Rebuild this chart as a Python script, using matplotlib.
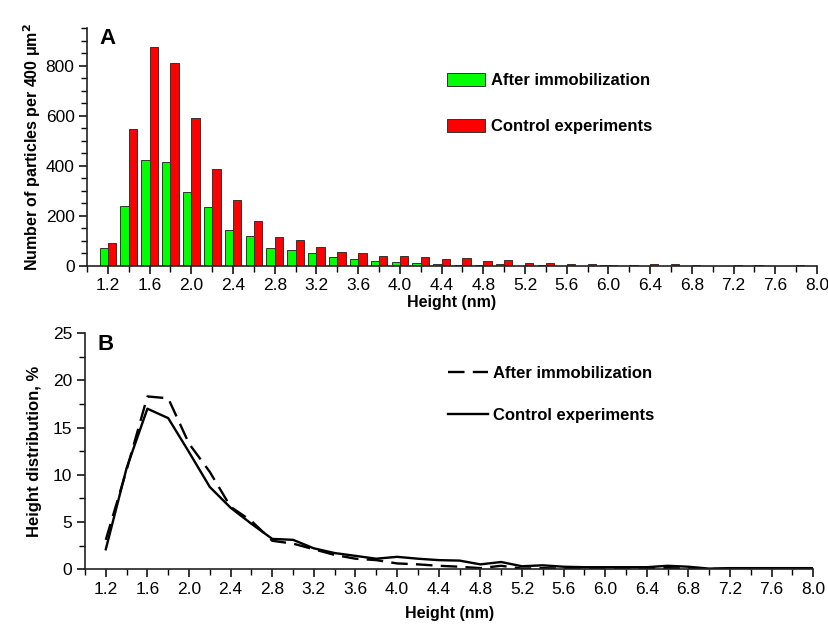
import matplotlib
matplotlib.use("Agg")
import matplotlib.pyplot as plt
from matplotlib.ticker import MultipleLocator

plt.rcParams['font.family'] = ['Liberation Sans', 'DejaVu Sans']

# bar positions (nm) and counts per 400 um^2
heights = [1.2, 1.4, 1.6, 1.8, 2.0, 2.2, 2.4, 2.6, 2.8, 3.0, 3.2, 3.4,
           3.6, 3.8, 4.0, 4.2, 4.4, 4.6, 4.8, 5.0, 5.2, 5.4, 5.6, 5.8,
           6.0, 6.2, 6.4, 6.6, 6.8, 7.0, 7.2, 7.4, 7.6, 7.8]
after_counts = [73, 238, 424, 415, 293, 234, 145, 118, 70, 64, 53, 35,
                28, 20, 15, 12, 9, 5, 3, 9, 1, 3, 1, 1,
                2, 1, 1, 1, 1, 0, 1, 1, 0, 1]
control_counts = [90, 545, 876, 811, 590, 387, 263, 180, 114, 102, 74, 57,
                  50, 40, 41, 36, 29, 31, 21, 23, 12, 11, 8, 7,
                  4, 3, 6, 8, 4, 1, 2, 3, 1, 4]

# height distribution in %
dist_x = [1.2, 1.4, 1.6, 1.8, 2.0, 2.2, 2.4, 2.6, 2.8, 3.0, 3.2, 3.4,
          3.6, 3.8, 4.0, 4.2, 4.4, 4.6, 4.8, 5.0, 5.2, 5.4, 5.6, 5.8,
          6.0, 6.2, 6.4, 6.6, 6.8, 7.0, 7.2, 7.4, 7.6, 7.8, 8.0]
after_pct = [3.1, 10.5, 18.3, 18.1, 13.3, 10.3, 6.6, 5.1, 3.0, 2.7, 2.1, 1.5,
             1.1, 0.95, 0.6, 0.5, 0.35, 0.25, 0.1, 0.35, 0.05, 0.1, 0.05, 0.05,
             0.05, 0.05, 0.05, 0.1, 0.05, 0.0, 0.05, 0.05, 0.0, 0.05, 0.0]
control_pct = [2.1, 10.7, 17.0, 16.0, 12.4, 8.7, 6.5, 4.8, 3.2, 3.1, 2.2, 1.7,
               1.4, 1.1, 1.3, 1.1, 0.95, 0.9, 0.5, 0.75, 0.3, 0.4, 0.25, 0.2,
               0.2, 0.2, 0.2, 0.35, 0.25, 0.05, 0.1, 0.1, 0.1, 0.1, 0.1]

xticks = [1.2, 1.6, 2.0, 2.4, 2.8, 3.2, 3.6, 4.0, 4.4, 4.8, 5.2, 5.6,
          6.0, 6.4, 6.8, 7.2, 7.6, 8.0]

fig = plt.figure(figsize=(8.29, 6.24), dpi=100)
axA = fig.add_axes([0.105, 0.574, 0.8805, 0.381])
axB = fig.add_axes([0.1025, 0.088, 0.8785, 0.378])

def style(ax, xpad):
    for s in ['top', 'right']:
        ax.spines[s].set_visible(False)
    for s in ['left', 'bottom']:
        ax.spines[s].set_linewidth(1.2)
        ax.spines[s].set_color('#222222')
    ax.set_xlim(1.0, 8.0)
    ax.set_xticks(xticks)
    ax.set_xticklabels(['%.1f' % v for v in xticks])
    ax.xaxis.set_minor_locator(MultipleLocator(0.2))
    ax.tick_params(which='major', direction='out', length=6, width=1.1, labelsize=12.5, pad=3)
    ax.tick_params(which='minor', direction='out', length=4, width=1.0)
    ax.set_xlabel('Height (nm)', fontsize=11.5, fontweight='bold', labelpad=xpad)

# panel A
w = 0.08
axA.bar([h - w / 2 for h in heights], after_counts, width=w, color='#00ff00',
        edgecolor='#333333', linewidth=0.7, label='After immobilization')
axA.bar([h + w / 2 for h in heights], control_counts, width=w, color='#ff0000',
        edgecolor='#333333', linewidth=0.7, label='Control experiments')
style(axA, 1)
axA.set_ylim(0, 950)
axA.yaxis.set_major_locator(MultipleLocator(200))
axA.yaxis.set_minor_locator(MultipleLocator(50))
axA.set_ylabel('Number of particles per 400 \u03bcm$^\\mathbf{2}$', fontsize=11.5, fontweight='bold', labelpad=2)
axA.text(0.017, 1.0, 'A', transform=axA.transAxes, fontsize=16, fontweight='bold', va='top')
axA.legend(loc='upper left', bbox_to_anchor=(0.484, 0.84), frameon=False,
           prop={'weight': 'bold', 'size': 12}, handlelength=2.3, handleheight=0.8,
           labelspacing=1.85, handletextpad=0.35, borderaxespad=0)

# panel B
axB.plot(dist_x, after_pct, color='black', linewidth=1.7, dashes=(7, 3.5), label='After immobilization')
axB.plot(dist_x, control_pct, color='black', linewidth=1.7, label='Control experiments')
style(axB, 7)
axB.set_ylim(0, 25)
axB.yaxis.set_major_locator(MultipleLocator(5))
axB.yaxis.set_minor_locator(MultipleLocator(2.5))
axB.set_ylabel('Height distribution, %', fontsize=12, fontweight='bold', labelpad=8)
axB.text(0.017, 0.995, 'B', transform=axB.transAxes, fontsize=16, fontweight='bold', va='top')
axB.legend(loc='upper left', bbox_to_anchor=(0.49, 0.888), frameon=False,
           prop={'weight': 'bold', 'size': 12}, handlelength=2.4,
           labelspacing=1.6, handletextpad=0.3, borderaxespad=0)

fig.savefig('out.png', dpi=100)
